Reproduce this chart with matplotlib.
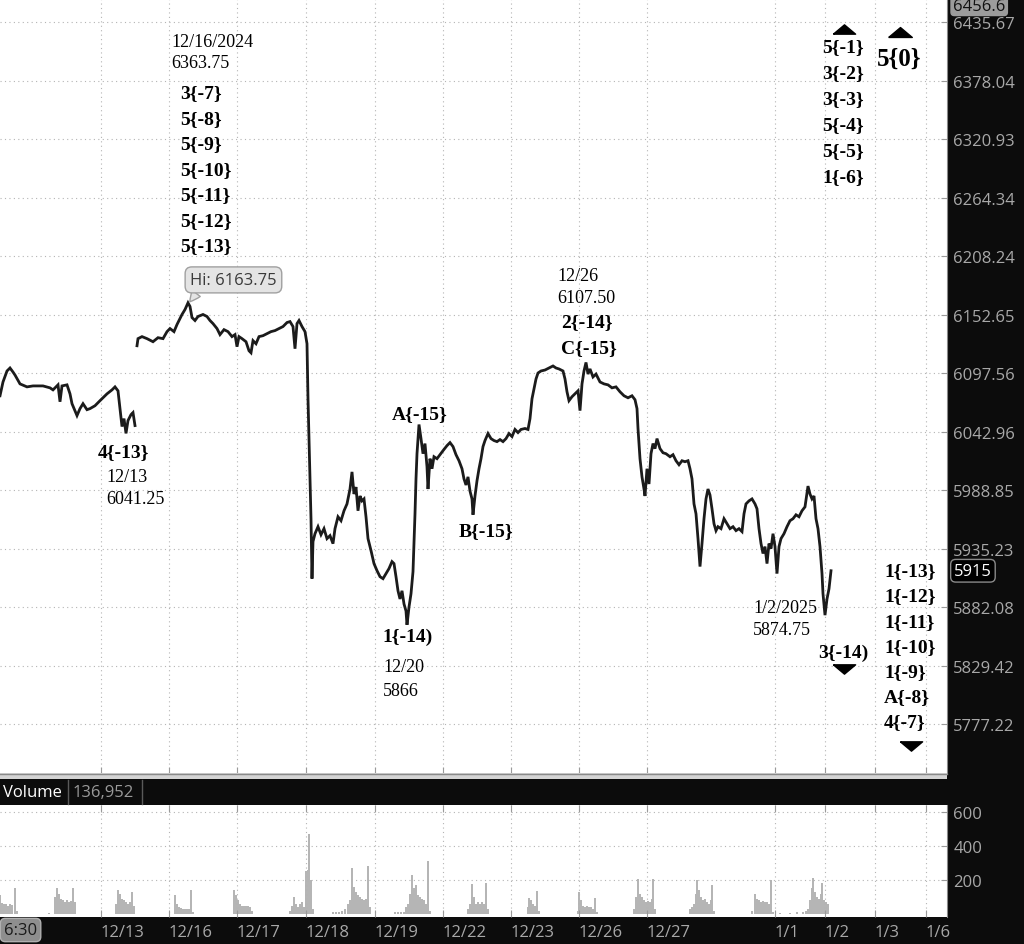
import matplotlib
matplotlib.use("Agg")
import matplotlib.pyplot as plt
import numpy as np
from matplotlib.patches import Rectangle
from matplotlib.lines import Line2D
from matplotlib.path import Path
from matplotlib.ticker import NullLocator
from matplotlib.transforms import blended_transform_factory

# ---------------- data ----------------
# time axis: bar index (one screen column per bar); price = /ES close
s1_t = [0, 3, 7, 10, 13, 15, 20, 27, 33, 43,
        50, 53, 58, 60, 62, 67, 70, 72, 77, 80,
        83, 87, 90, 95, 100, 107, 112, 115, 118, 120,
        122, 124, 126, 128, 131, 133, 135]
s1_p = [6076.3, 6089.2, 6099.5, 6102.3, 6098.5, 6095.7, 6087.4, 6084.6, 6085.5, 6085.5,
        6083.7, 6081.8, 6086.5, 6070.7, 6085.5, 6086.5, 6078.1, 6068.9, 6057.8, 6064.3,
        6068.9, 6063.3, 6064.3, 6067.0, 6071.7, 6078.1, 6081.8, 6084.6, 6080.9, 6064.3,
        6047.6, 6055.0, 6041.25, 6053.2, 6058.7, 6060.6, 6048.5]

s2_t = [137, 138, 142, 147, 153, 158, 163, 167, 170, 174,
        177, 180, 182, 185, 188, 190, 192, 195, 198, 203,
        207, 210, 213, 217, 220, 224, 228, 232, 235, 237,
        239, 242, 246, 249, 251, 253, 256, 259, 263, 267,
        271, 275, 279, 283, 287, 290, 293, 295, 297, 299,
        302, 305, 307]
s2_p = [6123.2, 6129.9, 6131.8, 6129.9, 6127.0, 6130.8, 6129.9, 6136.5, 6139.4, 6136.5,
        6143.2, 6148.9, 6152.7, 6157.4, 6163.75, 6160.3, 6149.8, 6147.0, 6150.8, 6152.7,
        6150.8, 6147.0, 6144.1, 6139.4, 6133.7, 6138.4, 6136.5, 6131.8, 6133.7, 6122.3,
        6131.8, 6129.9, 6127.0, 6118.5, 6116.6, 6128.0, 6125.1, 6131.8, 6132.7, 6134.6,
        6136.5, 6137.5, 6139.4, 6141.3, 6145.1, 6146.0, 6141.3, 6120.4, 6144.1, 6147.0,
        6141.3, 6136.5, 6125.1]

s3_t = [308, 309, 310, 311, 312, 313, 315, 318, 321, 324,
        327, 330, 333, 335, 338, 341, 344, 347, 350, 352,
        354, 356, 358, 360, 362, 364, 366, 368, 371, 374,
        377, 380, 383, 386, 389, 392, 394, 396, 398, 400,
        402, 404, 406, 407, 409, 411, 413, 414, 415, 416,
        417, 418, 419, 421, 423, 425, 427, 428, 430, 432,
        434, 437, 440, 443, 447, 450, 453, 456, 459, 462,
        464, 466, 468, 470, 472, 473, 475, 477, 479, 481,
        483, 485, 488, 491, 494, 497, 500, 503, 506, 509,
        512, 515, 518, 521, 525, 528]
s3_p = [6073.5, 6036.4, 5999.1, 5962.5, 5907.8, 5941.6, 5948.8, 5955.2, 5947.9, 5953.4,
        5944.3, 5947.0, 5939.7, 5953.4, 5964.3, 5960.7, 5969.8, 5976.1, 5989.8, 6005.6,
        5985.2, 5991.6, 5969.8, 5983.4, 5978.9, 5980.7, 5964.3, 5944.3, 5933.4, 5921.5,
        5915.1, 5909.6, 5907.8, 5912.4, 5917.0, 5923.3, 5921.5, 5909.6, 5896.8, 5889.4,
        5896.8, 5884.9, 5878.5, 5866.0, 5882.1, 5894.1, 5914.2, 5939.8, 5967.0, 5999.1,
        6022.4, 6036.4, 6049.5, 6036.4, 6022.4, 6031.8, 6010.3, 5989.8, 6017.8, 6008.5,
        6019.6, 6017.8, 6021.5, 6025.2, 6029.9, 6032.7, 6029.0, 6021.5, 6015.9, 6008.5,
        5999.1, 5993.5, 6001.0, 5987.9, 5980.7, 5966.1, 5983.4, 5997.4, 6008.5, 6017.8,
        6029.0, 6034.6, 6041.1, 6036.4, 6034.6, 6033.6, 6035.5, 6033.6, 6036.4, 6041.1,
        6038.3, 6044.9, 6042.0, 6044.9, 6045.8, 6044.9]

s4_t = [530, 532, 534, 536, 538, 541, 545, 549, 553, 556,
        559, 563, 565, 567, 569, 572, 575, 578, 580, 582,
        584, 586, 588, 590, 593, 596, 600, 604, 608, 612,
        616, 620, 624, 628, 632, 635, 637, 638, 640, 642,
        644, 645, 647, 649, 651, 653, 655, 657, 660, 663,
        666, 670, 673, 676, 679, 682, 685, 688, 690, 692,
        694, 696, 698, 700, 702, 704, 706, 708, 710, 712,
        714, 716, 718, 721, 724, 727, 730, 733, 736, 739,
        742, 744, 746, 749, 752, 755, 757, 759, 761, 763,
        765, 767, 769, 771, 773, 775, 777, 779, 781, 784,
        787, 790, 793, 796, 799, 802, 805, 808, 810, 812,
        814, 816, 818, 820, 822, 823, 825, 827, 829, 831]
s4_p = [6055.0, 6073.5, 6082.8, 6092.0, 6097.6, 6099.5, 6100.4, 6102.3, 6104.2, 6102.3,
        6101.4, 6099.5, 6092.0, 6080.0, 6071.7, 6075.4, 6078.1, 6080.9, 6062.4, 6087.4,
        6099.5, 6107.5, 6096.6, 6101.4, 6093.9, 6096.6, 6089.2, 6087.4, 6086.5, 6083.7,
        6084.6, 6080.0, 6076.3, 6074.4, 6076.3, 6072.6, 6064.3, 6045.8, 6017.8, 6001.0,
        5989.8, 5983.4, 6008.5, 5994.4, 6022.4, 6031.8, 6027.1, 6036.4, 6027.1, 6023.3,
        6022.4, 6019.6, 6021.5, 6015.9, 6012.2, 6015.9, 6015.0, 6015.9, 6008.5, 5999.1,
        5976.1, 5967.0, 5944.3, 5918.8, 5939.8, 5962.5, 5980.7, 5989.8, 5984.3, 5971.6,
        5957.9, 5951.6, 5955.2, 5953.4, 5962.5, 5957.9, 5953.4, 5955.2, 5951.6, 5953.4,
        5950.7, 5967.0, 5976.1, 5978.9, 5980.7, 5976.1, 5971.6, 5953.4, 5939.8, 5930.7,
        5937.0, 5921.5, 5939.8, 5935.2, 5948.8, 5937.0, 5912.4, 5937.0, 5944.3, 5948.8,
        5955.2, 5960.7, 5962.5, 5966.1, 5964.3, 5969.8, 5973.4, 5992.5, 5985.2, 5980.7,
        5983.4, 5962.5, 5953.4, 5937.0, 5912.4, 5894.1, 5874.75, 5889.4, 5898.6, 5915.0]

vol_t = [0, 2, 4, 6, 8, 10, 12, 15, 17,
         49, 55, 57, 59, 61, 63, 65, 67, 69, 71, 73, 75,
         116, 118, 120, 122, 124, 126, 128, 130, 132, 134,
         175, 177, 179, 181, 183, 185, 187, 189, 191, 193,
         234, 236, 238, 240, 242, 244, 246, 248, 250, 252,
         290, 292, 294, 296, 298, 300, 302, 304, 306, 308, 309, 311, 313,
         333, 336, 339, 342, 345, 348, 350, 352, 354, 356, 358, 360, 362, 364, 366, 368, 370,
         395, 398, 401, 404, 406, 408, 410, 412, 414, 416, 418, 420, 422, 424, 426, 428, 430,
         468, 470, 472, 474, 476, 478, 480, 482, 484, 486, 488,
         528, 529, 531, 533, 535, 537, 539,
         578, 579, 581, 583, 585, 587, 589, 591, 593, 595, 597,
         634, 636, 638, 640, 642, 644, 646, 648, 650, 652, 653, 655,
         690, 692, 694, 696, 697, 699, 701, 703, 705, 707, 709, 711, 712, 714,
         752, 755, 757, 759, 761, 763, 765, 767, 769, 771, 773,
         780, 790, 797, 803, 806,
         808, 810, 812, 813, 815, 817, 819, 821, 822, 824, 826, 828]
vol_v = [110, 65, 60, 60, 50, 60, 55, 150, 20,
         5, 100, 150, 120, 90, 80, 70, 85, 70, 75, 150, 70,
         60, 140, 120, 90, 80, 70, 60, 70, 130, 50,
         110, 60, 40, 35, 30, 30, 30, 30, 140, 10,
         140, 110, 80, 60, 50, 45, 50, 50, 40, 20,
         20, 50, 100, 60, 40, 60, 70, 40, 250, 260, 470, 200, 30,
         15, 15, 15, 20, 30, 60, 80, 270, 160, 130, 110, 100, 90, 80, 90, 280, 40,
         15, 15, 15, 15, 40, 60, 120, 230, 150, 170, 110, 100, 90, 80, 60, 310, 20,
         30, 60, 175, 100, 60, 70, 60, 70, 60, 180, 30,
         40, 95, 80, 60, 50, 135, 20,
         20, 130, 80, 50, 40, 50, 40, 40, 30, 95, 15,
         30, 100, 205, 120, 100, 80, 70, 75, 70, 90, 205, 30,
         30, 40, 60, 120, 200, 140, 100, 80, 90, 70, 60, 80, 170, 20,
         20, 120, 90, 80, 70, 75, 70, 70, 60, 200, 10,
         5, 5, 10, 10, 20,
         30, 80, 150, 210, 130, 100, 90, 120, 180, 80, 70, 60]

price_ticks = [6435.67, 6378.04, 6320.93, 6264.34, 6208.24, 6152.65, 6097.56,
               6042.96, 5988.85, 5935.23, 5882.08, 5829.42, 5777.22]
price_tick_labels = ["6435.67", "6378.04", "6320.93", "6264.34", "6208.24", "6152.65",
                     "6097.56", "6042.96", "5988.85", "5935.23", "5882.08", "5829.42",
                     "5777.22"]
date_ticks = [101, 169, 237, 306, 375, 443, 511, 579, 647, 775, 825, 875, 926]
date_labels = ["12/13", "12/16", "12/17", "12/18", "12/19", "12/22", "12/23",
               "12/26", "12/27", "1/1", "1/2", "1/3", "1/6"]
vol_ticks = [200, 400, 600]
last_price = 5915
axis_top_price = "6456.6"
last_volume = "136,952"

# ---------------- figure ----------------
W, H = 1024, 945
BG = "#0c0c0c"
fig = plt.figure(figsize=(W / 100, H / 100), dpi=100, facecolor=BG)


def rect(x0, y0, x1, y1):
    return [x0 / W, 1 - y1 / H, (x1 - x0) / W, (y1 - y0) / H]


UI = "Open Sans"
AXC = "#a8a8a8"
GRID = dict(color="#b4b4b4", linestyle=(0, (1, 3)), linewidth=0.8)

# ---- price panel ----
ax = fig.add_axes(rect(0, 0, 947, 774))
ax.set_facecolor("white")
ax.set_yscale("log")
ax.set_ylim(5733.9, 6458.5)
ax.set_xlim(0, 947)

t_all = s1_t + [np.nan] + s2_t + s3_t + s4_t
p_all = s1_p + [np.nan] + s2_p + s3_p + s4_p
ax.plot(t_all, p_all, color="#1b1b1b", lw=2.0, solid_joinstyle="miter")

ax.yaxis.tick_right()
ax.set_yticks(price_ticks)
ax.set_yticklabels(price_tick_labels)
ax.yaxis.set_minor_locator(NullLocator())
ax.tick_params(axis="y", direction="in", length=4, color="#9a9a9a",
               labelcolor=AXC, labelsize=12, pad=4.5)
for lab in ax.get_yticklabels():
    lab.set_family(UI)
ax.set_xticks(date_ticks)
ax.tick_params(axis="x", direction="in", length=4, color="#9a9a9a",
               labelbottom=False, bottom=True)
ax.grid(True, **GRID)
for s in ["top", "left", "bottom"]:
    ax.spines[s].set_visible(False)
ax.spines["right"].set_color("#8a8a8a")

BOLD = dict(family="Liberation Serif", weight="bold", size=14, color="black")
REG = dict(family="Liberation Serif", size=13, color="black")


def stack(x, p0, lines, step_px, style, ha="left"):
    for i, s in enumerate(lines):
        ax.annotate(s, xy=(x, p0), xytext=(0, -i * step_px * 0.72),
                    textcoords="offset points", ha=ha, va="center", **style)


tri_up = Path([(-1, -0.42), (1, -0.42), (0, 0.42), (-1, -0.42)])
tri_dn = Path([(-1, 0.42), (1, 0.42), (0, -0.42), (-1, 0.42)])

# top-left wave stack
stack(171, 6416.1, ["12/16/2024", "6363.75"], 21, REG)
stack(180, 6366.2, ["3{-7}", "5{-8}", "5{-9}", "5{-10}", "5{-11}", "5{-12}", "5{-13}"],
      25.5, BOLD)

# Hi bubble
ax.annotate("Hi: 6163.75", xy=(189, 6163.75), xytext=(32, 16.5),
            textcoords="offset points", ha="center", va="center",
            family=UI, size=12, color="#3a3a3a",
            bbox=dict(boxstyle="round,pad=0.3,rounding_size=0.4", fc="#e4e4e4", ec="#a0a0a0", lw=1),
            arrowprops=dict(arrowstyle="wedge,tail_width=0.6,shrink_factor=0.6", fc="#e4e4e4",
                            ec="#a0a0a0", relpos=(0.12, 0.0), shrinkA=0, shrinkB=1))

# 12/13 low
stack(98, 6024.3, ["4{-13}"], 25, BOLD)
stack(106, 6001.0, ["12/13", "6041.25"], 21.5, REG)

# A, B
stack(392, 6059.6, ["A{-15}"], 25, BOLD)
stack(459, 5951.6, ["B{-15}"], 25, BOLD)

# 12/20 low
stack(382, 5855.7, ["1{-14)"], 25, BOLD)
stack(383, 5829.0, ["12/20", "5866"], 24, REG)

# 12/26 high
stack(557, 6189.5, ["12/26", "6107.50"], 22, REG)
stack(561, 6146.0, ["2{-14}", "C{-15}"], 25.5, BOLD)

# 1/2 low
stack(753, 5882.1, ["1/2/2025", "5874.75"], 22, REG)
stack(818, 5841.2, ["3{-14)"], 25, BOLD)
ax.plot([844], [5826.7], marker=tri_dn, ms=16, color="black", ls="none")

# right column
stack(884, 5915.1, ["1{-13}", "1{-12}", "1{-11}", "1{-10}", "1{-9}", "A{-8}", "4{-7}"],
      25.2, BOLD)
ax.plot([911], [5757.4], marker=tri_dn, ms=16, color="black", ls="none")

# top right
ax.plot([844], [6428.8], marker=tri_up, ms=16, color="black", ls="none")
stack(822, 6411.2, ["5{-1}", "3{-2}", "3{-3}", "5{-4}", "5{-5}", "1{-6}"], 26, BOLD)
ax.plot([900], [6425.4], marker=tri_up, ms=17, color="black", ls="none")
ax.annotate("5{0}", xy=(877, 6400.0), ha="left", va="center",
            family="Liberation Serif", weight="bold", size=18, color="black")

# price-axis boxes
bt = blended_transform_factory(ax.transAxes, ax.transData)
ax.text(1 + 7 / 947, last_price, str(last_price), transform=bt, color="white",
        family=UI, size=12, va="center", ha="left", clip_on=False,
        bbox=dict(boxstyle="round,pad=0.2,rounding_size=0.3", fc="black", ec="#8a8a8a", lw=1))
ax.text(1 + 6 / 947, 6452.0, axis_top_price, transform=bt, color="#111111",
        family=UI, size=12, va="center", ha="left", clip_on=False,
        bbox=dict(boxstyle="round,pad=0.12,rounding_size=0.2", fc="#9c9c9c", ec="#9c9c9c"))

# ---- separator strip & volume header ----
fig.add_artist(Rectangle((0, 1 - 780 / H), 947 / W, 6 / H, transform=fig.transFigure,
                         fc="#d4d4d4", ec="none"))
fig.add_artist(Line2D([0, 947 / W], [1 - 775 / H] * 2, color="#8a8a8a", lw=1))
fig.text(3 / W, 1 - 793 / H, "Volume", color="white", family=UI, size=12, va="center")
fig.text(73 / W, 1 - 793 / H, last_volume, color="#9a9a9a", family=UI, size=12, va="center")
for xs in (68, 142):
    fig.add_artist(Line2D([xs / W] * 2, [1 - 781 / H, 1 - 805 / H], color="#5a5a5a", lw=1))

# ---- volume panel ----
axv = fig.add_axes(rect(0, 806, 947, 918))
axv.set_facecolor("white")
axv.bar(vol_t, vol_v, width=2.0, color="#b5b5b5", linewidth=0)
axv.set_xlim(0, 947)
axv.set_ylim(-17, 639)
axv.yaxis.tick_right()
axv.set_yticks(vol_ticks)
axv.set_yticklabels([str(v) for v in vol_ticks])
axv.tick_params(axis="y", direction="in", length=4, color="#9a9a9a",
                labelcolor=AXC, labelsize=12, pad=4.5)
axv.set_xticks(date_ticks)
axv.set_xticklabels(date_labels)
axv.tick_params(axis="x", direction="in", length=5, color="#9a9a9a", top=True,
                labelcolor=AXC, labelsize=12, pad=5)
for lab in axv.get_xticklabels() + axv.get_yticklabels():
    lab.set_family(UI)
for lab in axv.get_xticklabels():
    lab.set_ha("left")
axv.grid(True, **GRID)
for s in ["top", "left", "bottom"]:
    axv.spines[s].set_visible(False)
axv.spines["right"].set_color("#8a8a8a")

fig.text(4 / W, 1 - 931 / H, "6:30", color="#1a1a1a", family=UI, size=12, va="center",
         bbox=dict(boxstyle="round,pad=0.22,rounding_size=0.3", fc="#8e8e8e", ec="#b0b0b0"))

fig.savefig("out.png", dpi=100, facecolor=BG)
